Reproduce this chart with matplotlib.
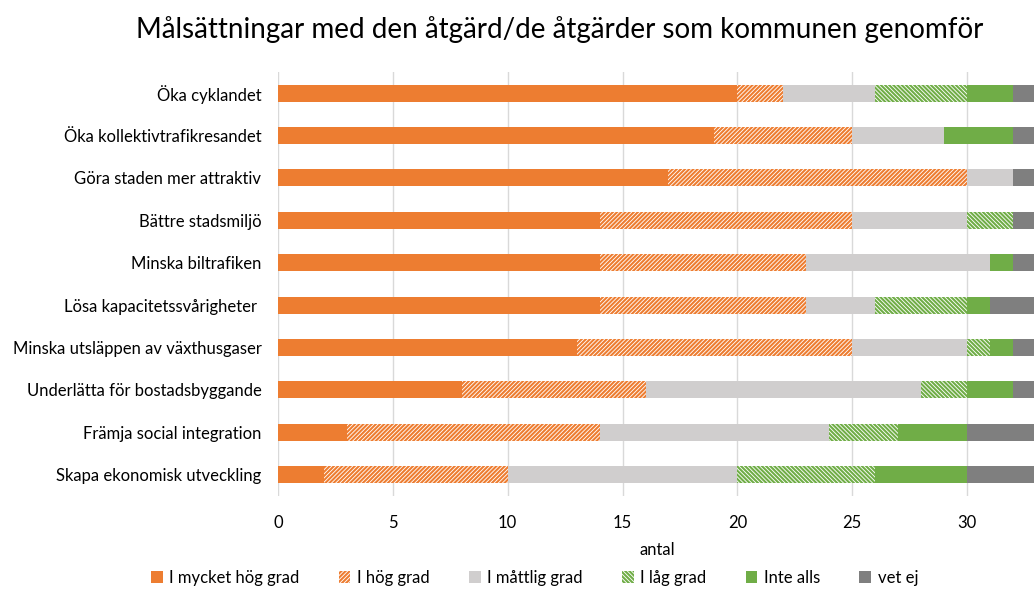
import matplotlib.pyplot as plt
import numpy as np

plt.rcParams["font.family"] = ["Lato", "DejaVu Sans"]
plt.rcParams["hatch.linewidth"] = 1.5

# -----------------------------------------------------------------------------
# Data
# -----------------------------------------------------------------------------
categories = [
    "Öka cyklandet",
    "Öka kollektivtrafikresandet",
    "Göra staden mer attraktiv",
    "Bättre stadsmiljö",
    "Minska biltrafiken",
    "Lösa kapacitetssvårigheter ",
    "Minska utsläppen av växthusgaser",
    "Underlätta för bostadsbyggande",
    "Främja social integration",
    "Skapa ekonomisk utveckling",
]
series_names = ["I mycket hög grad", "I hög grad", "I måttlig grad", "I låg grad", "Inte alls", "vet ej"]
mycket_hog = [20, 19, 17, 14, 14, 14, 13, 8, 3, 2]
hog = [2, 6, 13, 11, 9, 9, 12, 8, 11, 8]
mattlig = [4, 4, 2, 5, 8, 3, 5, 12, 10, 10]
lag = [4, 0, 0, 2, 0, 4, 1, 2, 3, 6]
inte_alls = [2, 3, 0, 0, 1, 1, 1, 2, 3, 4]
vet_ej = [1, 1, 1, 1, 1, 2, 1, 1, 3, 3]

# -----------------------------------------------------------------------------
# Style
# -----------------------------------------------------------------------------
ORANGE = "#ED7D31"
LIGHT_GRAY = "#D0CECE"
GREEN = "#70AD47"
DARK_GRAY = "#7F7F7F"
FS = 12

styles = [
    dict(color=ORANGE),
    dict(facecolor="white", edgecolor=ORANGE, hatch="/" * 8, linewidth=0),
    dict(color=LIGHT_GRAY),
    dict(facecolor="white", edgecolor=GREEN, hatch="\\" * 8, linewidth=0),
    dict(color=GREEN),
    dict(color=DARK_GRAY),
]

fig = plt.figure(figsize=(10.34, 5.89), dpi=100)
ax = fig.add_axes([0.2689, 0.158, 0.733, 0.72])

y = np.arange(len(categories))
left = np.zeros(len(categories))
for name, vals, st in zip(series_names, [mycket_hog, hog, mattlig, lag, inte_alls, vet_ej], styles):
    vals = np.array(vals)
    ax.barh(y, vals, left=left, height=0.4, label=name, **st)
    left += vals

ax.set_yticks(y)
ax.set_yticklabels(categories, fontsize=FS)
ax.set_ylim(len(categories) - 0.5, -0.5)
ax.set_xlim(0, 33)
ax.set_xticks(np.arange(0, 31, 5))
ax.tick_params(axis="x", labelsize=FS, length=0, pad=14)
ax.tick_params(axis="y", length=0, pad=12)
ax.grid(axis="x", color="#D9D9D9", linewidth=1)
ax.set_axisbelow(True)
for s in ax.spines.values():
    s.set_visible(False)

ax.set_xlabel("antal", fontsize=FS, labelpad=8)
fig.suptitle("Målsättningar med den åtgärd/de åtgärder som kommunen genomför", fontsize=20, x=0.541, y=0.972)

fig.legend(loc="center", bbox_to_anchor=(0.517, 0.019), ncol=6, frameon=False,
           fontsize=FS, handlelength=0.7, handleheight=0.7, columnspacing=2.35, handletextpad=0.4)

fig.savefig("out.png", dpi=100)
